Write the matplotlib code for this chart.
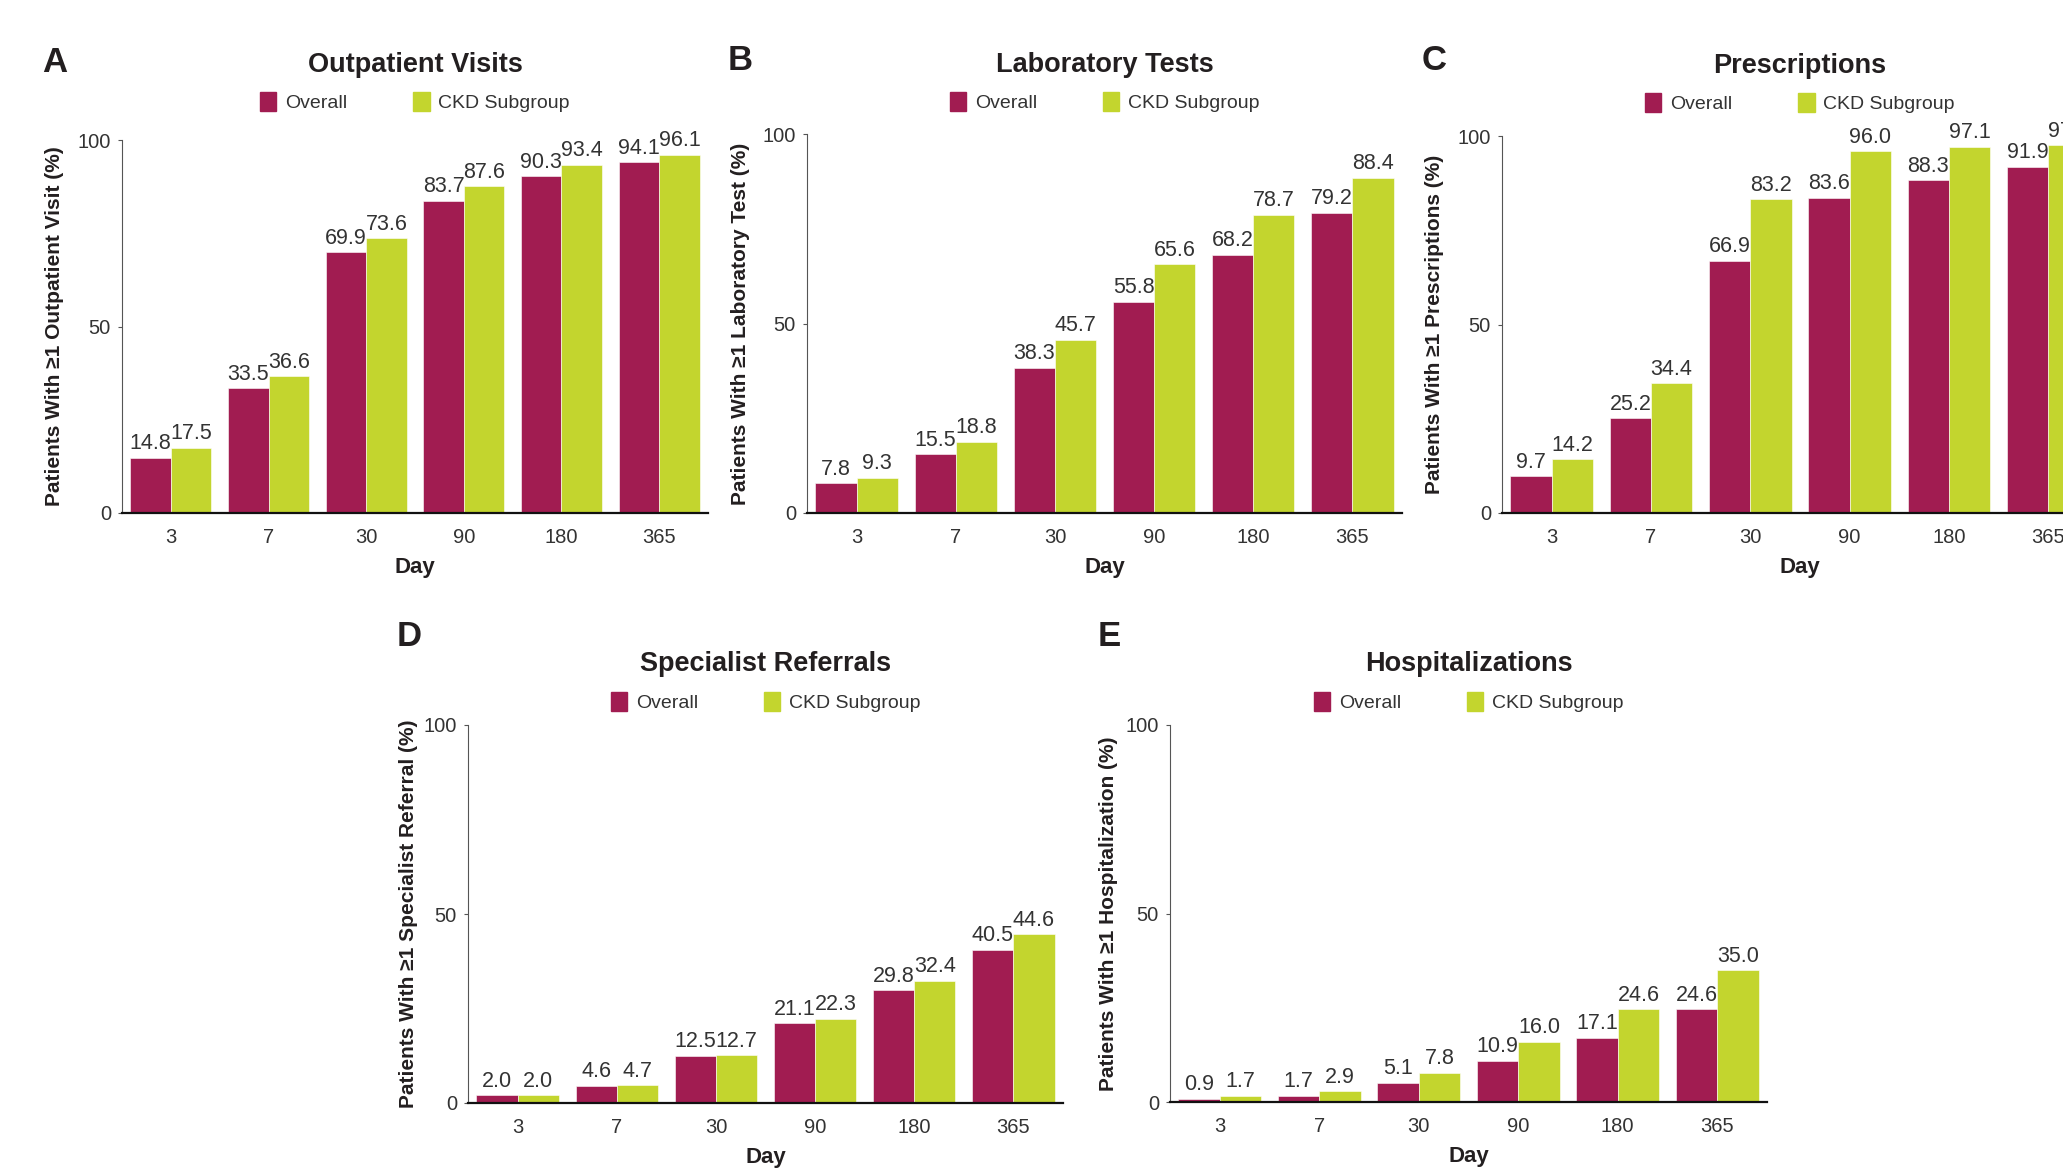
import matplotlib
matplotlib.use("Agg")
import matplotlib.pyplot as plt
import numpy as np
from matplotlib.patches import Patch

plt.rcParams['font.family'] = ['Liberation Sans', 'DejaVu Sans']

days = ["3", "7", "30", "90", "180", "365"]

outpatient_overall = [14.8, 33.5, 69.9, 83.7, 90.3, 94.1]
outpatient_ckd = [17.5, 36.6, 73.6, 87.6, 93.4, 96.1]
lab_overall = [7.8, 15.5, 38.3, 55.8, 68.2, 79.2]
lab_ckd = [9.3, 18.8, 45.7, 65.6, 78.7, 88.4]
rx_overall = [9.7, 25.2, 66.9, 83.6, 88.3, 91.9]
rx_ckd = [14.2, 34.4, 83.2, 96.0, 97.1, 97.6]
ref_overall = [2.0, 4.6, 12.5, 21.1, 29.8, 40.5]
ref_ckd = [2.0, 4.7, 12.7, 22.3, 32.4, 44.6]
hosp_overall = [0.9, 1.7, 5.1, 10.9, 17.1, 24.6]
hosp_ckd = [1.7, 2.9, 7.8, 16.0, 24.6, 35.0]

MAROON = "#A11C51"
LIME = "#C3D52E"
TXT = "#231F20"
GREY = "#333333"

W, H = 2063, 1175
fig = plt.figure(figsize=(W / 100, H / 100), dpi=100)

# letter, title, ylabel, overall, ckd, axes box px (l, r, t, b), title y, legend y, letter/ylabel x, letter y
panels = [
    ("A", "Outpatient Visits", "Patients With \u22651 Outpatient Visit (%)",
     outpatient_overall, outpatient_ckd, (122, 708, 140, 513), 65, 102, 55, 62),
    ("B", "Laboratory Tests", "Patients With \u22651 Laboratory Test (%)",
     lab_overall, lab_ckd, (807, 1402, 134, 513), 65, 102, 740, 60),
    ("C", "Prescriptions", "Patients With \u22651 Prescriptions (%)",
     rx_overall, rx_ckd, (1502, 2098, 136, 513), 66, 103, 1434, 60),
    ("D", "Specialist Referrals", "Patients With \u22651 Specialist Referral (%)",
     ref_overall, ref_ckd, (468, 1063, 725, 1103), 664, 702, 409, 637),
    ("E", "Hospitalizations", "Patients With \u22651 Hospitalization (%)",
     hosp_overall, hosp_ckd, (1170, 1767, 725, 1102), 664, 702, 1109, 637),
]

x = np.arange(len(days))
bw = 0.415

for letter, title, ylab, ov, ckd, box, ty, ly, lx, lty in panels:
    l, r, t, b = box
    wpx, hpx = r - l, b - t
    ax = fig.add_axes([l / W, 1 - b / H, wpx / W, hpx / H])
    b1 = ax.bar(x - bw / 2, ov, bw, color=MAROON, edgecolor="white", linewidth=0.4)
    b2 = ax.bar(x + bw / 2, ckd, bw, color=LIME, edgecolor="white", linewidth=0.4)
    for bars, vals in ((b1, ov), (b2, ckd)):
        for rect, v in zip(bars, vals):
            ax.annotate(f"{v:.1f}", (rect.get_x() + rect.get_width() / 2, v),
                        xytext=(0, 2.5), textcoords="offset points",
                        ha="center", va="bottom", fontsize=15.5, color=GREY,
                        annotation_clip=False)
    ax.set_xlim(-0.5, 5.5)
    ax.set_ylim(0, 100)
    ax.set_yticks([0, 50, 100])
    ax.set_xticks(x)
    ax.set_xticklabels(days)
    ax.tick_params(axis="x", length=0, pad=11, labelsize=14.5, labelcolor=GREY)
    ax.tick_params(axis="y", length=3, width=0.8, color="#555555", pad=5,
                   labelsize=14.5, labelcolor=GREY)
    for s in ("top", "right"):
        ax.spines[s].set_visible(False)
    ax.spines["left"].set_color("#555555")
    ax.spines["left"].set_linewidth(0.8)
    ax.spines["bottom"].set_color("#111111")
    ax.spines["bottom"].set_linewidth(1.6)
    ax.set_xlabel("Day", fontsize=16, fontweight="bold", color=TXT, labelpad=7)
    ax.set_ylabel(ylab, fontsize=15, fontweight="bold", color=TXT)
    ax.yaxis.label.set_va("center")
    ax.yaxis.set_label_coords((lx - l) / wpx, 0.5)
    fig.text((l + r) / 2 / W, 1 - ty / H, title, ha="center", va="center",
             fontsize=19.5, fontweight="bold", color=TXT)
    handles = [Patch(color=MAROON, label="Overall"), Patch(color=LIME, label="CKD Subgroup")]
    ax.legend(handles=handles, loc="center", bbox_to_anchor=(0.5, (b - ly) / hpx),
              ncol=2, frameon=False, fontsize=14, handlelength=0.84, handleheight=1.16,
              handletextpad=0.45, columnspacing=3.4, labelcolor=GREY)
    fig.text(lx / W, 1 - lty / H, letter, fontsize=25, fontweight="bold",
             color=TXT, ha="center", va="center")

fig.savefig("out.png", dpi=100)
